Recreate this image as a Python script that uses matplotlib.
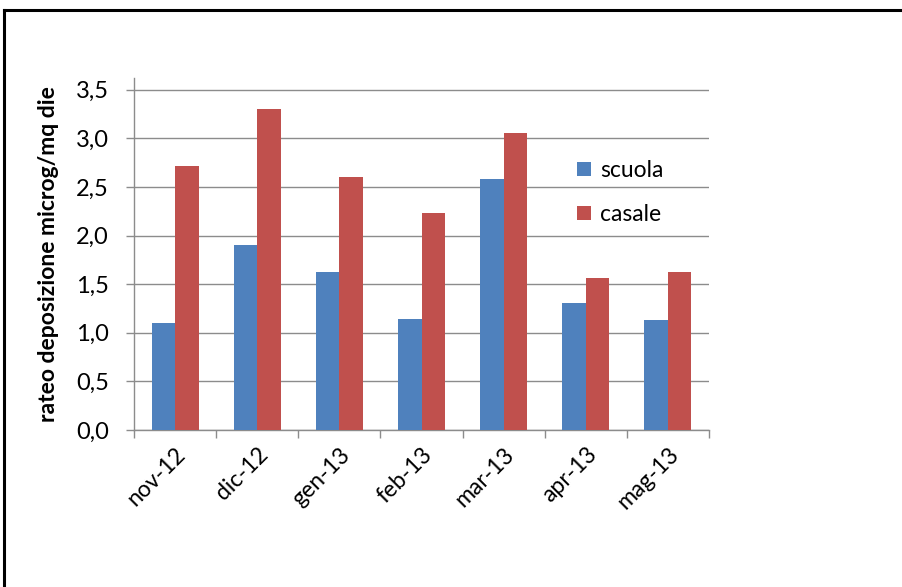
import matplotlib
matplotlib.use("Agg")
import matplotlib.pyplot as plt
from matplotlib.lines import Line2D
from matplotlib.patches import Patch
import numpy as np

months = ["nov-12", "dic-12", "gen-13", "feb-13", "mar-13", "apr-13", "mag-13"]
scuola = [1.10, 1.90, 1.62, 1.14, 2.58, 1.31, 1.13]
casale = [2.71, 3.30, 2.60, 2.235, 3.05, 1.56, 1.63]
y_ticks = [0.0, 0.5, 1.0, 1.5, 2.0, 2.5, 3.0, 3.5]
y_tick_labels = ["0,0", "0,5", "1,0", "1,5", "2,0", "2,5", "3,0", "3,5"]

plt.rcParams["font.family"] = ["Lato", "DejaVu Sans"]

W, H = 902, 587
fig = plt.figure(figsize=(W / 100, H / 100), dpi=100)
fig.patch.set_facecolor("white")

# outer chart frame (top and left edges visible)
fig.add_artist(Line2D([4 / W, 4 / W], [0, 1 - 10 / H], transform=fig.transFigure,
                      color="black", lw=2.2, solid_capstyle="projecting"))
fig.add_artist(Line2D([4 / W, 1], [1 - 10 / H, 1 - 10 / H], transform=fig.transFigure,
                      color="black", lw=2.2, solid_capstyle="projecting"))

left, right, bottom, top = 134, 709, 430, 78
ax = fig.add_axes([left / W, (H - bottom) / H, (right - left) / W, (bottom - top) / H])

blue = "#4F81BD"
red = "#C0504D"
grid_col = "#8C8C8C"

x = np.arange(len(months))
bw = 1 / 3.5
ax.bar(x - bw / 2, scuola, width=bw, color=blue, label="scuola", zorder=3)
ax.bar(x + bw / 2, casale, width=bw, color=red, label="casale", zorder=3)

ax.set_xlim(-0.5, len(months) - 0.5)
ax.set_ylim(0, 3.62)

ax.set_yticks(y_ticks)
ax.set_yticklabels(y_tick_labels, fontsize=17)
ax.yaxis.grid(True, color=grid_col, lw=1.0, zorder=0)
ax.tick_params(axis="y", direction="out", length=6, width=1, color=grid_col, pad=12)

# category boundaries carry the tick marks, centres carry the labels
ax.set_xticks(np.arange(-0.5, len(months), 1.0))
ax.set_xticklabels([])
ax.set_xticks(x, minor=True)
ax.set_xticklabels(months, minor=True, rotation=45, ha="right", va="top",
                   rotation_mode="anchor", fontsize=16.5)
ax.tick_params(axis="x", which="major", direction="out", length=6, width=1, color=grid_col)
ax.tick_params(axis="x", which="minor", length=0, pad=10)

for s in ["top", "right"]:
    ax.spines[s].set_visible(False)
for s in ["left", "bottom"]:
    ax.spines[s].set_color(grid_col)
    ax.spines[s].set_linewidth(1.0)

ax.set_ylabel("rateo deposizione microg/mq die", fontsize=16.5, fontweight="bold", labelpad=12)

handles = [Patch(facecolor=blue), Patch(facecolor=red)]
leg = ax.legend(handles, ["scuola", "casale"], loc="upper left",
                bbox_to_anchor=((577 - left) / (right - left), (bottom - 160) / (bottom - top)),
                frameon=False, fontsize=16.5, handlelength=0.6, handleheight=0.6,
                handletextpad=0.4, labelspacing=1.0, borderaxespad=0, borderpad=0)

fig.savefig("out.png", dpi=100, facecolor="white")
